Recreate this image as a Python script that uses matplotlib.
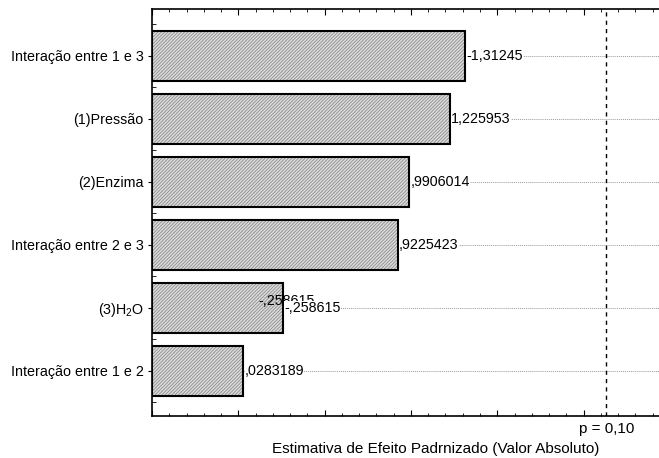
import matplotlib
matplotlib.use("Agg")
import matplotlib.pyplot as plt
from matplotlib.ticker import MultipleLocator, FixedLocator

plt.rcParams['font.family'] = ['Liberation Sans', 'DejaVu Sans']
plt.rcParams['mathtext.fontset'] = 'custom'
plt.rcParams['mathtext.rm'] = 'Liberation Sans'
plt.rcParams['mathtext.it'] = 'Liberation Sans:italic'
plt.rcParams['hatch.linewidth'] = 0.6

# data, top to bottom as in the chart
fatores = ["Interação entre 1 e 3", "(1)Pressão", "(2)Enzima",
           "Interação entre 2 e 3", "(3)H$_\\mathrm{2}$O", "Interação entre 1 e 2"]
efeitos = [-1.31245, 1.225953, 0.9906014, 0.9225423, -0.258615, 0.0283189]
rotulos = ["-1,31245", "1,225953", ",9906014", ",9225423", "-,258615", ",0283189"]
t_crit = 2.132   # p = 0,10
x_min, x_max = -0.5, 2.79
fs = 10.3

fig = plt.figure(figsize=(6.59, 4.58), dpi=100)
ax = fig.add_axes([152/659, 42/458, (720-152)/659, 407/458])

pos = list(range(len(fatores)))[::-1]
vals = [abs(v) for v in efeitos]
larg = [v - x_min for v in vals]

for p in pos:
    ax.axhline(p, color='#999999', ls=(0, (1, 1)), lw=0.7, zorder=1)

ax.barh(pos, larg, left=x_min, height=0.79, color='#dcdcdc', edgecolor='#8c8c8c',
        hatch='//////////', lw=0, zorder=2)
ax.barh(pos, larg, left=x_min, height=0.79, fill=False, edgecolor='black',
        lw=1.5, zorder=3)

for p, v, r in zip(pos, vals, rotulos):
    ax.text(v + 0.008, p, r, fontsize=fs, va='center', ha='left', zorder=5,
            bbox=dict(facecolor='white', edgecolor='none', pad=0))
# rótulo repetido no H2O
ax.text(vals[4] - 0.145, pos[4] + 0.11, rotulos[4], fontsize=fs, va='center',
        ha='left', zorder=4)

ax.axvline(t_crit, color='black', ls=(0, (3, 3)), lw=1, zorder=4)
ax.text(t_crit, -0.93, "p = 0,10", fontsize=11, ha='center', va='center',
        clip_on=False)

ax.set_xlim(x_min, x_max)
ax.set_ylim(-0.72, 5.74)
ax.xaxis.set_major_locator(MultipleLocator(0.5))
ax.xaxis.set_minor_locator(MultipleLocator(0.1))
ax.set_xticklabels([])
ax.tick_params(axis='x', which='major', direction='in', length=4, top=True,
               bottom=True, width=0.8)
ax.tick_params(axis='x', which='minor', direction='in', length=2, top=True,
               bottom=True, width=0.6)

ax.set_yticks(pos)
ax.set_yticklabels(fatores)
ax.yaxis.set_minor_locator(FixedLocator([i - 0.5 for i in range(len(fatores) + 1)]))
ax.tick_params(axis='y', which='major', direction='out', length=3, labelsize=fs,
               pad=3, width=0.8)
ax.tick_params(axis='y', which='minor', direction='in', length=3, width=0.6)

for s in ax.spines.values():
    s.set_linewidth(1.2)

fig.text(436/659, 1 - 449/458, "Estimativa de Efeito Padrnizado (Valor Absoluto)",
         fontsize=11, ha='center', va='center')

fig.savefig("out.png", dpi=100)
